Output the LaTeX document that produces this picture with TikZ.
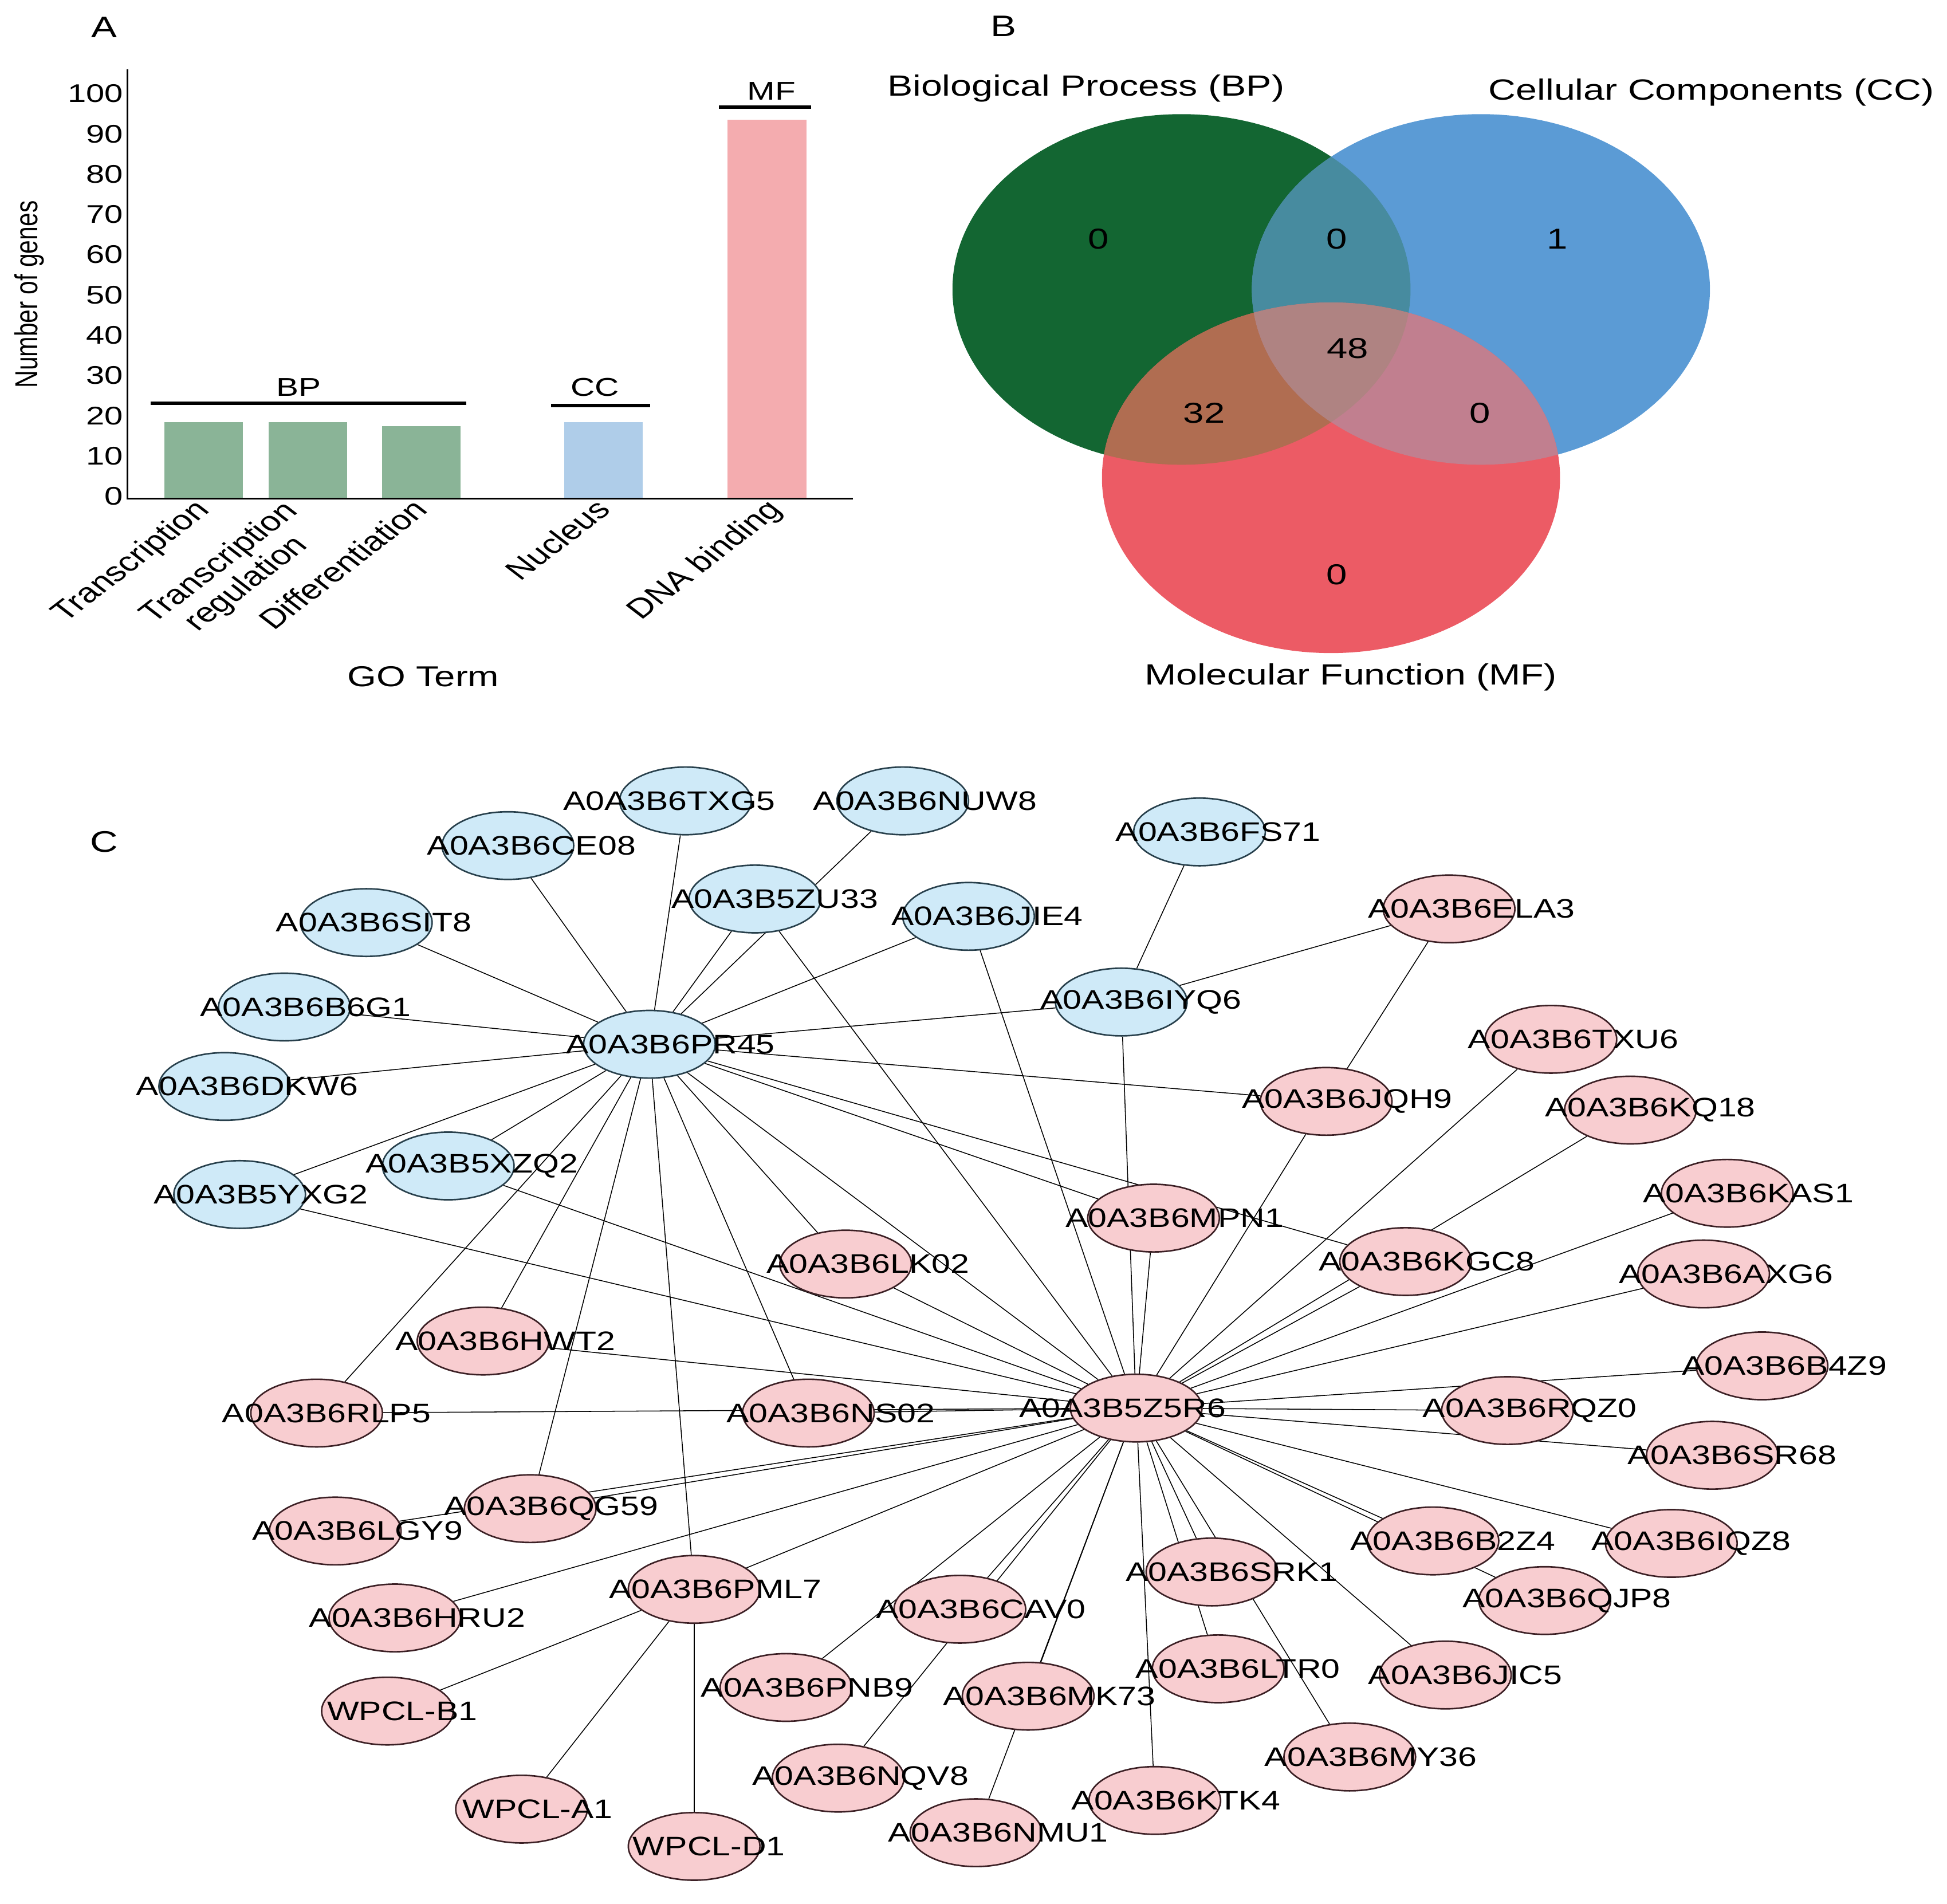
\documentclass[tikz,border=0pt]{standalone}
\usepackage{fontspec}
\setmainfont{Liberation Sans}
\newfontfamily\netfont[FakeStretch=1.26]{Liberation Sans}
\newfontfamily\widefont[FakeStretch=1.3]{Liberation Sans}
\usetikzlibrary{shapes.geometric}
\usepackage{xcolor}
\definecolor{bpbar}{HTML}{8AB497}
\definecolor{ccbar}{HTML}{AFCDE9}
\definecolor{mfbar}{HTML}{F4ACAF}
\definecolor{bpset}{HTML}{136632}
\definecolor{ccset}{HTML}{5B9BD5}
\definecolor{mfset}{HTML}{EC5B65}
\definecolor{bpcc}{HTML}{478B9F}
\definecolor{bpmf}{HTML}{B06D51}
\definecolor{ccmf}{HTML}{C17F8F}
\definecolor{allsets}{HTML}{AF8382}
\definecolor{ccfill}{HTML}{CFEAF8}
\definecolor{ccline}{HTML}{28404C}
\definecolor{mffill}{HTML}{F8CDD0}
\definecolor{mfline}{HTML}{3C2025}
\pgfdeclarelayer{background}
\pgfdeclarelayer{foreground}
\pgfsetlayers{background,main,foreground}
\def\vennBP{(951.5,233.1) ellipse [x radius=3.69cm, y radius=2.824cm]}
\def\vennCC{(1192.6,233.1) ellipse [x radius=3.69cm, y radius=2.824cm]}
\def\vennMF{(1071.9,384.8) ellipse [x radius=3.69cm, y radius=2.824cm]}

\begin{document}
\begin{tikzpicture}[x=0.02cm,y=-0.02cm,
  panel/.style={font={\widefont\fontsize{13.6}{16}\selectfont},inner sep=0pt},
  ticklab/.style={font={\widefont\fontsize{11.7}{14}\selectfont},inner sep=0pt,anchor=east},
  grouplab/.style={font={\widefont\fontsize{11.8}{14}\selectfont},inner sep=0pt},
  termlab/.style={font={\fontsize{12.6}{13.5}\selectfont},inner sep=0pt,rotate=45,transform shape,anchor=north east,align=center},
  setlab/.style={font={\widefont\fontsize{13.4}{16}\selectfont},inner sep=0pt},
  count/.style={font={\widefont\fontsize{13.2}{16}\selectfont},inner sep=0pt},
  axisline/.style={line width=0.7pt},
  grpline/.style={line width=1.6pt},
  ccnode/.style={ellipse,draw=ccline,fill=ccfill,line width=0.7pt,minimum width=2.12cm,minimum height=1.09cm,inner sep=0pt},
  mfnode/.style={ellipse,draw=mfline,fill=mffill,line width=0.7pt,minimum width=2.12cm,minimum height=1.09cm,inner sep=0pt},
  genelabel/.style={font={\netfont\fontsize{12.3}{14}\selectfont},inner sep=0pt},
  link/.style={line width=0.4pt}]
  \useasboundingbox (0,0) rectangle (1568,1533);

  % Panel letters
  \node[panel] (pA) at (84,22) {A};
  \node[panel] (pB) at (808,21) {B};
  \node[panel] (pC) at (84,678) {C};

  % A: bars
  \fill[bpbar] (132.3,339.8) rectangle (195.8,401);
  \fill[bpbar] (216.5,339.8) rectangle (279.6,401);
  \fill[bpbar] (307.8,343.1) rectangle (370.9,401);
  \fill[ccbar] (454.2,339.8) rectangle (517.8,401);
  \fill[mfbar] (586.0,96.3) rectangle (649.6,401);
  % axes
  \draw[axisline] (102.6,55.9) -- (102.6,401.5) -- (687,401.5);
  \foreach \v in {0,10,...,100}
    \node[ticklab] (tick\v) at (99.5,{399.7-3.243*\v}) {\v};
  % group bars
  \draw[grpline] (121.4,324.7) -- (375.6,324.7);
  \node[grouplab] (gBP) at (240.5,311.8) {BP};
  \draw[grpline] (443.9,326.5) -- (523.4,326.5);
  \node[grouplab] (gCC) at (479,311.8) {CC};
  \draw[grpline] (579,86.4) -- (653.3,86.4);
  \node[grouplab] (gMF) at (621.3,73.5) {MF};
  % term labels
  \begin{scope}[shift={(155,400)},xscale=1.3]
    \node[termlab] (t1) at (0,0) {Transcription};
  \end{scope}
  \begin{scope}[shift={(226,401)},xscale=1.3]
    \node[termlab] (t2) at (0,0) {Transcription\\regulation};
  \end{scope}
  \begin{scope}[shift={(331,400)},xscale=1.3]
    \node[termlab] (t3) at (0,0) {Differentiation};
  \end{scope}
  \begin{scope}[shift={(478,400)},xscale=1.3]
    \node[termlab] (t4) at (0,0) {Nucleus};
  \end{scope}
  \begin{scope}[shift={(616,400)},xscale=1.3]
    \node[termlab] (t5) at (0,0) {DNA binding};
  \end{scope}
  \begin{scope}[shift={(23.5,237.2)},xscale=1.3]
    \node[font={\fontsize{11.2}{13}\selectfont},inner sep=0pt,rotate=90,transform shape] (ylab) at (0,0) {Number of genes};
  \end{scope}
  \node[setlab,font={\widefont\fontsize{13.2}{16}\selectfont}] (xlab) at (340.8,545) {GO Term};

  % B: Venn
  \fill[bpset] \vennBP;
  \fill[ccset] \vennCC;
  \fill[mfset] \vennMF;
  \begin{scope}
    \clip \vennBP;
    \fill[bpcc] \vennCC;
  \end{scope}
  \begin{scope}
    \clip \vennBP;
    \fill[bpmf] \vennMF;
  \end{scope}
  \begin{scope}
    \clip \vennCC;
    \fill[ccmf] \vennMF;
  \end{scope}
  \begin{scope}
    \clip \vennBP;
    \clip \vennCC;
    \fill[allsets] \vennMF;
  \end{scope}
  \node[setlab] (sBP) at (874.5,71) {Biological Process (BP)};
  \node[setlab] (sCC) at (1378.3,74.6) {Cellular Components (CC)};
  \node[setlab] (sMF) at (1087.8,545.3) {Molecular Function (MF)};
  \node[count] (n1) at (884.6,192.3) {0};
  \node[count] (n2) at (1076.7,192.3) {0};
  \node[count] (n3) at (1254,192.3) {1};
  \node[count] (n4) at (1085.2,280.6) {48};
  \node[count] (n5) at (969.8,332.8) {32};
  \node[count] (n6) at (1192,332.8) {0};
  \node[count] (n7) at (1076.7,462.6) {0};

  % C: network, blue nodes
  \foreach \nm/\x/\y/\dx/\txt in {TXG5/552/645/-13/A0A3B6TXG5, NUW8/727/645/18/A0A3B6NUW8,
      CE08/409/681/19/A0A3B6CE08, FS71/966/670/15/A0A3B6FS71, ZU33/608/724/16/A0A3B5ZU33,
      JIE4/780/738/15/A0A3B6JIE4, SIT8/295/743/6/A0A3B6SIT8, IYQ6/903/807/16/A0A3B6IYQ6,
      B6G1/229/811/17/A0A3B6B6G1, PR45/523/841/17/A0A3B6PR45, DKW6/181/875/18/A0A3B6DKW6,
      XZQ2/361/939/19/A0A3B5XZQ2, YXG2/193/962/17/A0A3B5YXG2} {
    \node[ccnode] (\nm) at (\x,\y) {};
    \begin{pgfonlayer}{foreground}
      \node[genelabel] (\nm-t) at (\x+\dx,\y) {\txt};
    \end{pgfonlayer}
  }
  % pink nodes
  \foreach \nm/\x/\y/\dx/\txt in {ELA3/1167/732/18/A0A3B6ELA3, TXU6/1249/837/18/A0A3B6TXU6,
      JQH9/1068/887/17/A0A3B6JQH9, KQ18/1313/894/16/A0A3B6KQ18, KAS1/1391/961/17/A0A3B6KAS1,
      MPN1/929/981/17/A0A3B6MPN1, KGC8/1132/1016/17/A0A3B6KGC8, AXG6/1372/1026/18/A0A3B6AXG6,
      LK02/681/1018/18/A0A3B6LK02, HWT2/389/1080/18/A0A3B6HWT2, RLP5/255/1138/8/A0A3B6RLP5,
      NS02/651/1138/18/A0A3B6NS02, Z5R6/915/1134/-11/A0A3B5Z5R6, B4Z9/1419/1100/18/A0A3B6B4Z9,
      RQZ0/1214/1136/18/A0A3B6RQZ0, SR68/1379/1172/16/A0A3B6SR68, QG59/427/1215/17/A0A3B6QG59,
      LGY9/270/1233/18/A0A3B6LGY9, B2Z4/1154/1241/16/A0A3B6B2Z4, IQZ8/1346/1243/16/A0A3B6IQZ8,
      PML7/559/1280/17/A0A3B6PML7, HRU2/318/1303/18/A0A3B6HRU2, SRK1/976/1266/16/A0A3B6SRK1,
      QJP8/1244/1289/18/A0A3B6QJP8, CAV0/773/1296/17/A0A3B6CAV0, LTR0/981/1344/16/A0A3B6LTR0,
      JIC5/1164/1349/16/A0A3B6JIC5, WB1/312/1378/12/WPCL-B1, PNB9/633/1359/17/A0A3B6PNB9,
      MK73/828/1366/17/A0A3B6MK73, MY36/1087/1415/17/A0A3B6MY36, NQV8/675/1432/18/A0A3B6NQV8,
      KTK4/930/1450/17/A0A3B6KTK4, WA1/420/1457/13/WPCL-A1, WD1/559/1487/12/WPCL-D1,
      NMU1/786/1476/18/A0A3B6NMU1} {
    \node[mfnode] (\nm) at (\x,\y) {};
    \begin{pgfonlayer}{foreground}
      \node[genelabel] (\nm-t) at (\x+\dx,\y) {\txt};
    \end{pgfonlayer}
  }

  % edges
  \begin{pgfonlayer}{background}
    \foreach \a in {TXG5,NUW8,CE08,ZU33,SIT8,B6G1,DKW6,JIE4,IYQ6,YXG2,XZQ2,JQH9,MPN1,KGC8,
        LK02,RLP5,HWT2,QG59,PML7,NS02,Z5R6}
      \draw[link] (PR45) -- (\a);
    \foreach \a in {ZU33,JIE4,IYQ6,MPN1,JQH9,TXU6,KQ18,KGC8,KAS1,AXG6,LK02,XZQ2,YXG2,HWT2,
        NS02,RLP5,QG59,LGY9,HRU2,PML7,CAV0,PNB9,NQV8,MK73,NMU1,KTK4,SRK1,LTR0,MY36,JIC5,
        B2Z4,QJP8,IQZ8,SR68,RQZ0,B4Z9}
      \draw[link] (Z5R6) -- (\a);
    \foreach \a/\b in {ELA3/IYQ6,ELA3/JQH9,FS71/IYQ6,PML7/WB1,PML7/WA1,PML7/WD1}
      \draw[link] (\a) -- (\b);
  \end{pgfonlayer}
\end{tikzpicture}
\end{document}
